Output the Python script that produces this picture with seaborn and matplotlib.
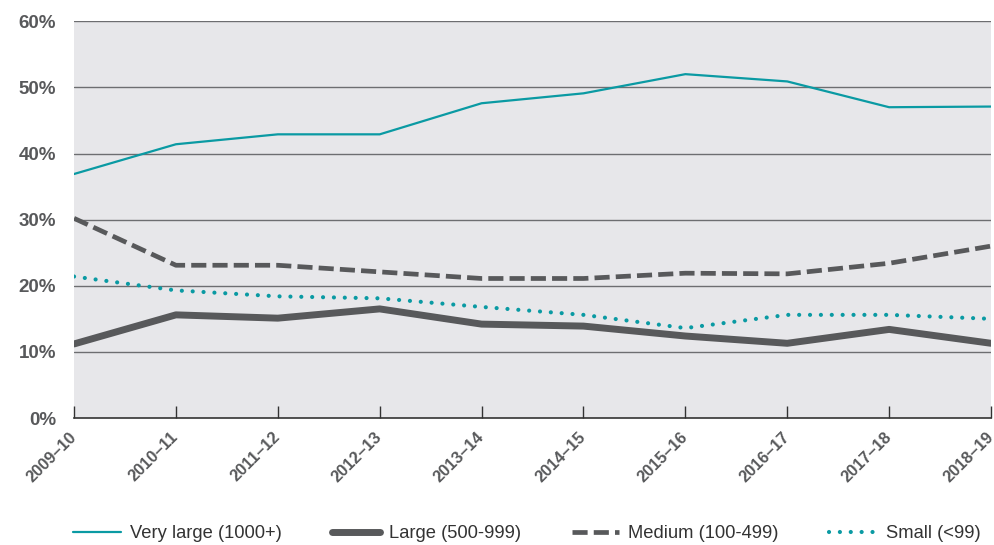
import pandas as pd
import matplotlib
matplotlib.use('Agg')
import matplotlib.pyplot as plt
import seaborn as sns

years = ['2009–10', '2010–11', '2011–12', '2012–13', '2013–14',
         '2014–15', '2015–16', '2016–17', '2017–18', '2018–19']
very_large = [36.9, 41.4, 42.9, 42.9, 47.6, 49.1, 52.0, 50.9, 47.0, 47.1]
large = [11.2, 15.6, 15.1, 16.5, 14.2, 13.9, 12.4, 11.3, 13.4, 11.3]
medium = [30.2, 23.1, 23.1, 22.1, 21.1, 21.1, 21.9, 21.8, 23.4, 26.0]
small = [21.4, 19.3, 18.4, 18.1, 16.8, 15.6, 13.6, 15.6, 15.6, 15.0]
y_ticks = [0, 10, 20, 30, 40, 50, 60]

teal = '#0a9aa3'
grey = '#58595b'

sns.set_style('white')
plt.rcParams['font.family'] = ['Liberation Sans', 'DejaVu Sans']

fig = plt.figure(figsize=(9.95, 5.45), dpi=100)
ax = fig.add_axes([0.0744, 0.233, 0.9216, 0.728])
ax.set_facecolor('#e7e7ea')

x = list(range(len(years)))

# Very large
sns.lineplot(x=x, y=very_large, ax=ax, color=teal, linewidth=1.6,
             label='Very large (1000+)')
# Large
sns.lineplot(x=x, y=large, ax=ax, color=grey, linewidth=5.0,
             label='Large (500-999)')
# Medium
l3 = sns.lineplot(x=x, y=medium, ax=ax, color=grey, linewidth=3.4,
                  label='Medium (100-499)').lines[-1]
l3.set_dashes((3.2, 1.3))
# Small
l4 = sns.lineplot(x=x, y=small, ax=ax, color=teal, linewidth=3.0,
                  label='Small (<99)').lines[-1]
l4.set_dashes((0.01, 2.6))
l4.set_dash_capstyle('round')

ax.set_xlim(0, len(years) - 1)
ax.set_ylim(0, 60)
ax.set_yticks(y_ticks)
ax.set_yticklabels([f'{v}%' for v in y_ticks], fontsize=13.5,
                   fontweight='bold', color=grey)
for v in y_ticks[1:]:
    ax.axhline(v, color='#6d6e71', linewidth=1.0, zorder=0.5)

ax.set_xticks(x)
ax.set_xticklabels(years, rotation=45, ha='right', va='center',
                   rotation_mode='anchor', fontsize=11.8, fontweight='bold',
                   color=grey)
ax.tick_params(axis='x', bottom=True, direction='in', length=9, width=1,
               color='#333333', pad=12)
ax.tick_params(axis='y', left=False, length=0, pad=13)

for s in ['top', 'right', 'left']:
    ax.spines[s].set_visible(False)
ax.spines['bottom'].set_color('#333333')
ax.spines['bottom'].set_linewidth(1.2)

ax.set_xlabel('')
ax.set_ylabel('')

leg = ax.legend(loc='lower center', bbox_to_anchor=(0.494, -0.355), ncol=4,
                frameon=False, fontsize=13.2, handlelength=2.6,
                columnspacing=2.75, handletextpad=0.5)
for t in leg.get_texts():
    t.set_color('#333333')

fig.savefig('out.png', dpi=100)
